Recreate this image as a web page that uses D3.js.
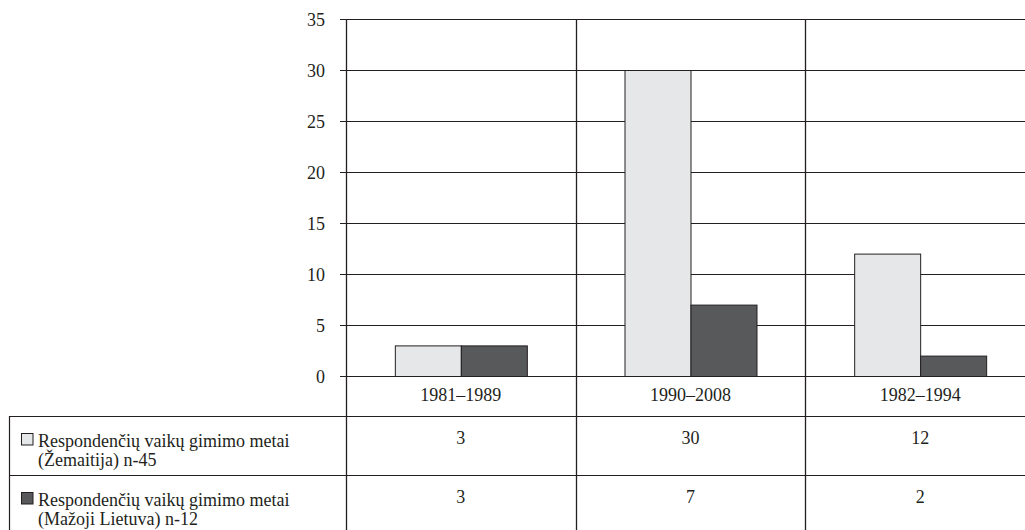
<!DOCTYPE html>
<html><head><meta charset="utf-8">
<script src="https://cdn.jsdelivr.net/npm/d3@7"></script>
<style>body{margin:0;background:#fff}svg{display:block}svg text{font-family:"Times New Roman","Liberation Serif",Tinos,"DejaVu Serif",serif !important}</style>
</head><body><svg id="c" width="1025" height="530"></svg>
<script>
const categories = ["1981–1989", "1990–2008", "1982–1994"];
const seriesNames = ["Respondenčių vaikų gimimo metai (Žemaitija) n-45", "Respondenčių vaikų gimimo metai (Mažoji Lietuva) n-12"];
const seriesLines = [["Respondenčių vaikų gimimo metai", "(Žemaitija) n-45"], ["Respondenčių vaikų gimimo metai", "(Mažoji Lietuva) n-12"]];
const zemaitija = [3, 30, 12];
const mazojiLietuva = [3, 7, 2];
const yTicks = [0, 5, 10, 15, 20, 25, 30, 35];
const colors = ["#e6e7e8", "#58595b"];
const series = [zemaitija, mazojiLietuva];

const FS = 18;
const svg = d3.select("#c");
const pLeft = 346, pRight = 1035, pTop = 19, pBottom = 376;
const x = d3.scaleBand().domain(categories).range([pLeft, pRight]).paddingInner(0).paddingOuter(0);
const y = d3.scaleLinear().domain([0, 35]).range([pBottom, pTop]);
const xs = d3.scaleBand().domain([0, 1]).range([0, x.bandwidth()]).paddingInner(0).paddingOuter(0.74);
const stroke = "#231f20";

// gridlines
svg.append("g").selectAll("line").data(yTicks).join("line")
  .attr("x1", pLeft - 6).attr("x2", 1025).attr("y1", d => Math.round(y(d)) + 0.5).attr("y2", d => Math.round(y(d)) + 0.5)
  .attr("stroke", stroke).attr("stroke-width", 1.2);
// y labels
svg.append("g").selectAll("text").data(yTicks).join("text")
  .attr("x", 325).attr("y", d => y(d) + 7).attr("text-anchor", "end").attr("font-size", FS).attr("fill", stroke).text(d => d);
// vertical lines
const vx = [pLeft, x(categories[1]), x(categories[2])];
svg.append("g").selectAll("line").data(vx).join("line")
  .attr("x1", d => Math.round(d) + 0.5).attr("x2", d => Math.round(d) + 0.5).attr("y1", pTop).attr("y2", 530)
  .attr("stroke", stroke).attr("stroke-width", 1.3);

// bars
series.forEach((vals, si) => {
  svg.append("g").selectAll("rect").data(vals).join("rect")
    .attr("x", (d, i) => x(categories[i]) + xs(si) + 0.5)
    .attr("y", d => y(d) + 0.5)
    .attr("width", xs.bandwidth())
    .attr("height", d => y(0) - y(d))
    .attr("fill", colors[si]).attr("stroke", stroke).attr("stroke-width", 1);
});

// category labels
svg.append("g").selectAll("text").data(categories).join("text")
  .attr("x", d => x(d) + x.bandwidth() / 2).attr("y", 401).attr("text-anchor", "middle").attr("font-size", FS).attr("fill", stroke).text(d => d);

// table
const rowTops = [416, 475];
svg.append("g").selectAll("line").data(rowTops).join("line")
  .attr("x1", 9).attr("x2", 1025).attr("y1", d => d + 0.5).attr("y2", d => d + 0.5)
  .attr("stroke", stroke).attr("stroke-width", 1.2);
svg.append("line").attr("x1", 9.5).attr("x2", 9.5).attr("y1", 416).attr("y2", 530).attr("stroke", stroke).attr("stroke-width", 1.2);

series.forEach((vals, si) => {
  const ty = rowTops[si];
  svg.append("rect").attr("x", 21.5).attr("y", ty + 17.5).attr("width", 11.5).attr("height", 11.5)
    .attr("fill", colors[si]).attr("stroke", stroke).attr("stroke-width", 1);
  const t = svg.append("text").attr("x", 38).attr("y", ty + 31).attr("font-size", FS).attr("fill", stroke);
  seriesLines[si].forEach((ln, li) => {
    t.append("tspan").attr("x", 38).attr("dy", li === 0 ? 0 : 18.5).text(ln);
  });
  svg.append("g").selectAll("text").data(vals).join("text")
    .attr("x", (d, i) => x(categories[i]) + x.bandwidth() / 2).attr("y", ty + 28)
    .attr("text-anchor", "middle").attr("font-size", FS).attr("fill", stroke).text(d => d);
});
</script></body></html>
